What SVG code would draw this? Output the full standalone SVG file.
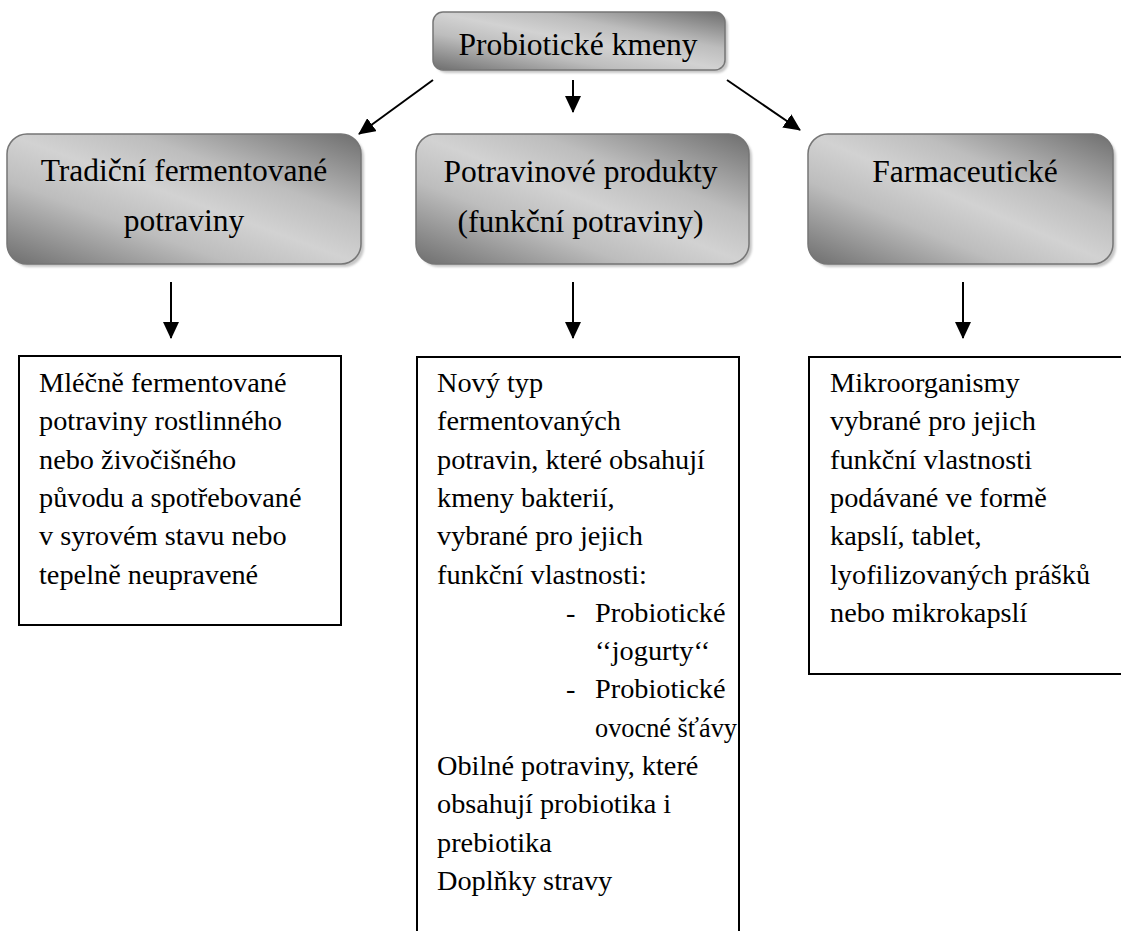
<svg xmlns="http://www.w3.org/2000/svg" width="1121" height="931" viewBox="0 0 1121 931">
<defs>
<linearGradient id="chrome" x1="0" y1="1" x2="1" y2="0">
<stop offset="0" stop-color="#6e6e6e"/>
<stop offset="0.32" stop-color="#bdbdbd"/>
<stop offset="0.5" stop-color="#d2d2d2"/>
<stop offset="0.68" stop-color="#bdbdbd"/>
<stop offset="1" stop-color="#6e6e6e"/>
</linearGradient>
<marker id="arr" markerUnits="userSpaceOnUse" markerWidth="18" markerHeight="16" refX="16" refY="8" orient="auto">
<path d="M0,0 L17,8 L0,16 z" fill="#000"/>
</marker>
<filter id="sh" x="-5%" y="-5%" width="115%" height="120%">
<feGaussianBlur stdDeviation="1"/>
</filter>
</defs>
<style>
.hdr{fill:url(#chrome);stroke:#767676;stroke-width:1.5}
.shadow{fill:#c6c6c6;filter:url(#sh)}
.t{font-family:"Liberation Serif","Times New Roman",serif;fill:#000}
.h{font-size:31.5px;text-anchor:middle}
.b{font-size:28.3px}
.box{fill:#fff;stroke:#000;stroke-width:2}
.con{stroke:#000;stroke-width:2;fill:none;marker-end:url(#arr)}
</style>
<rect width="1121" height="931" fill="#fff"/>

<g id="probioticke-kmeny">
<rect class="shadow" x="436" y="15" width="292" height="58" rx="10"/>
<rect class="hdr" x="433" y="12" width="292" height="58" rx="10"/>
<text class="t h" x="578" y="55">Probiotické kmeny</text>
</g>

<g id="tradicni">
<rect class="shadow" x="10" y="137" width="354" height="130" rx="20"/>
<rect class="hdr" x="7" y="134" width="354" height="130" rx="20"/>
<text class="t h" x="184" y="181">Tradiční fermentované</text>
<text class="t h" x="184" y="231">potraviny</text>
</g>

<g id="potravinove">
<rect class="shadow" x="419" y="137" width="333" height="130" rx="20"/>
<rect class="hdr" x="416" y="134" width="333" height="130" rx="20"/>
<text class="t h" x="580.5" y="182">Potravinové produkty</text>
<text class="t h" x="580.5" y="232">(funkční potraviny)</text>
</g>

<g id="farmaceuticke">
<rect class="shadow" x="811" y="137" width="305" height="130" rx="20"/>
<rect class="hdr" x="808" y="134" width="305" height="130" rx="20"/>
<text class="t h" x="965" y="182">Farmaceutické</text>
</g>

<g id="connectors">
<line class="con" x1="433" y1="80" x2="359" y2="134"/>
<line class="con" x1="573" y1="80" x2="573" y2="112"/>
<line class="con" x1="727" y1="80" x2="800" y2="130"/>
<line class="con" x1="171" y1="282" x2="171" y2="338"/>
<line class="con" x1="573" y1="282" x2="573" y2="338"/>
<line class="con" x1="963" y1="282" x2="963" y2="338"/>
</g>

<g id="popis-tradicni">
<rect class="box" x="19" y="356" width="322" height="269"/>
<text class="t b">
<tspan x="39" y="392">Mléčně fermentované</tspan>
<tspan x="39" y="430.3">potraviny rostlinného</tspan>
<tspan x="39" y="468.6">nebo živočišného</tspan>
<tspan x="39" y="506.9">původu a spotřebované</tspan>
<tspan x="39" y="545.2">v syrovém stavu nebo</tspan>
<tspan x="39" y="583.5">tepelně neupravené</tspan>
</text>
</g>

<g id="popis-potravinove">
<path class="box" d="M417,932 V357 H739 V932"/>
<text class="t b">
<tspan x="437" y="392">Nový typ</tspan>
<tspan x="437" y="430.3">fermentovaných</tspan>
<tspan x="437" y="468.6">potravin, které obsahují</tspan>
<tspan x="437" y="506.9">kmeny bakterií,</tspan>
<tspan x="437" y="545.2">vybrané pro jejich</tspan>
<tspan x="437" y="583.5">funkční vlastnosti:</tspan>
<tspan x="566" y="621.8">-</tspan>
<tspan x="595" y="621.8">Probiotické</tspan>
<tspan x="595" y="660.1">‘‘jogurty‘‘</tspan>
<tspan x="566" y="698.4">-</tspan>
<tspan x="595" y="698.4">Probiotické</tspan>
<tspan x="595" y="736.7" textLength="142" lengthAdjust="spacingAndGlyphs">ovocné šťávy</tspan>
<tspan x="437" y="775">Obilné potraviny, které</tspan>
<tspan x="437" y="813.3">obsahují probiotika i</tspan>
<tspan x="437" y="851.6">prebiotika</tspan>
<tspan x="437" y="889.9">Doplňky stravy</tspan>
</text>
</g>

<g id="popis-farmaceuticke">
<path class="box" d="M1123,357 H809 V674 H1123"/>
<text class="t b">
<tspan x="830" y="392">Mikroorganismy</tspan>
<tspan x="830" y="430.3">vybrané pro jejich</tspan>
<tspan x="830" y="468.6">funkční vlastnosti</tspan>
<tspan x="830" y="506.9">podávané ve formě</tspan>
<tspan x="830" y="545.2">kapslí, tablet,</tspan>
<tspan x="830" y="583.5">lyofilizovaných prášků</tspan>
<tspan x="830" y="621.8">nebo mikrokapslí</tspan>
</text>
</g>
</svg>
